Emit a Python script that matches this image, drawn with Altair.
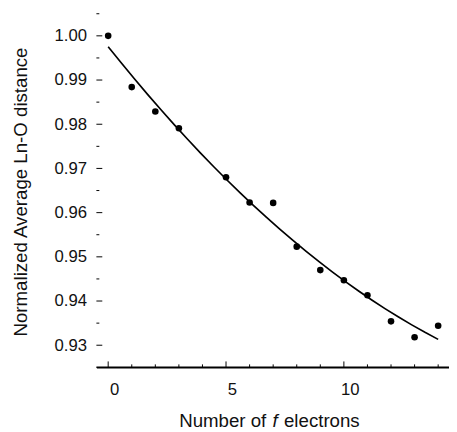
import altair as alt
import pandas as pd

# ---- data ----
n_f = [0, 1, 2, 3, 5, 6, 7, 8, 9, 10, 11, 12, 13, 14]
dist = [1.000, 0.9884, 0.9829, 0.9791, 0.9680, 0.9623, 0.9622, 0.9523,
        0.9470, 0.9447, 0.9413, 0.9354, 0.9318, 0.9344]

x_major = [0, 5, 10]
x_minor = [1, 2, 3, 4, 6, 7, 8, 9, 11, 12, 13, 14]
y_major = [0.93, 0.94, 0.95, 0.96, 0.97, 0.98, 0.99, 1.00]
y_minor = [0.935, 0.945, 0.955, 0.965, 0.975, 0.985, 0.995, 1.005]

x_domain = [-0.5, 14.46]
y_domain = [0.925, 1.005]

y_title = "Normalized Average Ln-O distance"
x_title_parts = ["Number of", "f", "electrons"]

FONT = "Liberation Sans"
W, H = 359, 360

df = pd.DataFrame({"x": n_f, "y": dist})
xs = alt.Scale(domain=x_domain, nice=False, zero=False)
ys = alt.Scale(domain=y_domain, nice=False, zero=False)

x_axis = alt.Axis(
    values=x_major, ticks=False, labelPadding=15, labelOffset=6,
    labelFontSize=17, labelFont=FONT, labelColor="#111", grid=False, title=None)
y_axis = alt.Axis(
    values=y_major, format=".2f", ticks=False, domain=False,
    labelPadding=10, labelFontSize=17, labelFont=FONT, labelColor="#111",
    grid=False, title=y_title, titleFont=FONT, titleFontSize=19,
    titleFontWeight="normal", titleColor="#111", titleX=-71, titleY=181,
    titleAngle=-90, titleAlign="center", titleBaseline="alphabetic")

points = alt.Chart(df).mark_circle(size=45, color="black", opacity=1).encode(
    x=alt.X("x:Q", scale=xs, axis=x_axis),
    y=alt.Y("y:Q", scale=ys, axis=y_axis),
)

fit = alt.Chart(df).transform_regression(
    "x", "y", method="poly", order=2, extent=[0, 14]
).mark_line(color="black", strokeWidth=1.7).encode(
    x=alt.X("x:Q", scale=xs, axis=x_axis),
    y=alt.Y("y:Q", scale=ys, axis=y_axis),
)

# x-axis base line at the bottom of the y domain
baseline = alt.Chart(pd.DataFrame({"y": [y_domain[0]]})).mark_rule(
    color="black", strokeWidth=1.5).encode(
    y=alt.Y("y:Q", scale=ys, axis=y_axis),
    x=alt.value(0), x2=alt.value(W))

def yticks(vals, length):
    return alt.Chart(pd.DataFrame({"y": vals})).mark_rule(
        color="black", strokeWidth=1).encode(
        y=alt.Y("y:Q", scale=ys, axis=y_axis),
        x=alt.value(0), x2=alt.value(length))

def xticks(vals, length):
    return alt.Chart(pd.DataFrame({"x": vals})).mark_rule(
        color="black", strokeWidth=1).encode(
        x=alt.X("x:Q", scale=xs, axis=x_axis),
        y=alt.value(H), y2=alt.value(H - length))

def title_piece(txt, xpos, align, style="normal"):
    return alt.Chart(pd.DataFrame({"t": [txt]})).mark_text(
        font=FONT, fontSize=19, fontStyle=style, color="#111",
        align=align, baseline="alphabetic").encode(
        text="t:N", x=alt.value(xpos), y=alt.value(421))

chart = alt.layer(
    points, fit,
    yticks(y_major, 6), yticks(y_minor, 3),
    xticks(x_major, 6), xticks(x_minor, 3),
    title_piece(x_title_parts[0], 173, "right"),
    title_piece(x_title_parts[1], 182, "center", "italic"),
    title_piece(x_title_parts[2], 191, "left"),
    baseline,
).properties(
    width=W, height=H,
    padding={"left": 90, "top": 2, "right": 0, "bottom": 62},
    autosize=alt.AutoSizeParams(type="none"),
).configure_view(stroke=None).configure_axisX(
    domain=True, domainColor="black", domainWidth=1.5
)

chart.save("out.html", embed_options={"renderer": "svg", "actions": False})
